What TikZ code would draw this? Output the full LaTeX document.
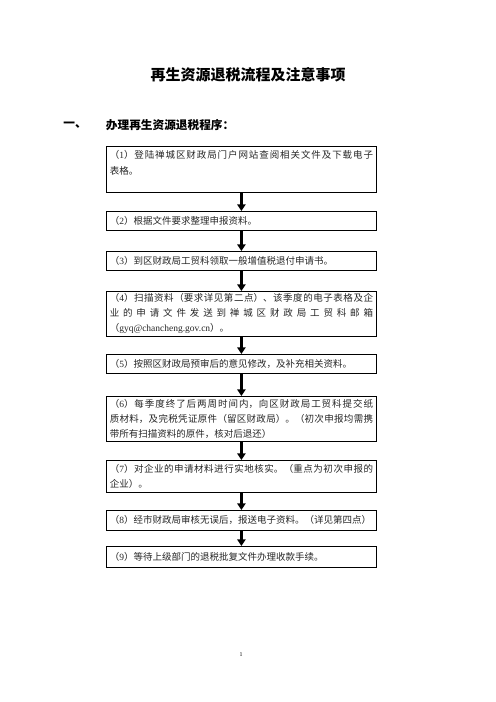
\documentclass[tikz,border=0pt]{standalone}
\usepackage{fontspec}
\setmainfont{Noto Sans CJK SC}
\newfontfamily\latinfont{Liberation Serif}
\usetikzlibrary{arrows.meta}
\XeTeXlinebreaklocale "zh"
\XeTeXlinebreakskip=0pt plus 2pt
\newcommand{\lat}[1]{{\latinfont #1}}

\begin{document}
\begin{tikzpicture}[x=1.2pt, y=-1.2pt,
  stepbox/.style={draw, line width=1pt, anchor=north west, text width=316pt,
    inner xsep=4pt, inner ysep=2pt, align=justify,
    font=\fontsize{11.4pt}{18pt}\selectfont, text=black!85},
  flowarrow/.style={line width=2.8pt, -{Triangle[length=8pt, width=10pt]}}]
\useasboundingbox (0,0) rectangle (496,702);
% Title and heading
\node[font=\fontsize{18pt}{20pt}\selectfont\bfseries] (title) at (248,75) {再生资源退税流程及注意事项};
\node[font=\fontsize{14pt}{16pt}\selectfont\bfseries] (headnum) at (75,125) {一、};
\node[font=\fontsize{14pt}{16pt}\selectfont\bfseries, anchor=west] (heading) at (103,125) {办理再生资源退税程序：};
% Steps
\node[stepbox, minimum height=55pt] (b1) at (106,146) {\vspace{2pt}（\lat{1}）登陆禅城区财政局门户网站查阅相关文件及下载电子\linebreak 表格。\par\vspace{16pt}};
\node[stepbox, minimum height=23pt] (b2) at (106,211) {（\lat{2}）根据文件要求整理申报资料。};
\node[stepbox, minimum height=23pt] (b3) at (106,251) {（\lat{3}）到区财政局工贸科领取一般增值税退付申请书。};
\node[stepbox, minimum height=54pt] (b4) at (106,291) {（\lat{4}）扫描资料（要求详见第二点）、该季度的电子表格及企\linebreak 业的申请文件发送到禅城区财政局工贸科邮箱\linebreak （\lat{gyq@chancheng.gov.cn}）。};
\node[stepbox, minimum height=23pt] (b5) at (106,354) {（\lat{5}）按照区财政局预审后的意见修改，及补充相关资料。};
\node[stepbox, minimum height=54pt] (b6) at (106,396) {（\lat{6}）每季度终了后两周时间内，向区财政局工贸科提交纸\linebreak 质材料，及完税凭证原件（留区财政局）。（初次申报均需携\linebreak 带所有扫描资料的原件，核对后退还）};
\node[stepbox, minimum height=38pt] (b7) at (106,460) {（\lat{7}）对企业的申请材料进行实地核实。（重点为初次申报的\linebreak 企业）。};
\node[stepbox, minimum height=24pt] (b8) at (106,510) {（\lat{8}）经市财政局审核无误后，报送电子资料。（详见第四点）};
\node[stepbox, minimum height=25pt] (b9) at (106,546) {（\lat{9}）等待上级部门的退税批复文件办理收款手续。};
% Arrows
\draw[flowarrow] (b1) -- (b2);
\draw[flowarrow] (b2) -- (b3);
\draw[flowarrow] (b3) -- (b4);
\draw[flowarrow] (b4) -- (b5);
\draw[flowarrow] (b5) -- (b6);
\draw[flowarrow] (b6) -- (b7);
\draw[flowarrow] (b7) -- (b8);
\draw[flowarrow] (b8) -- (b9);
% Page number
\node[font=\latinfont\fontsize{7pt}{8pt}\selectfont] (pagenum) at (241,655) {1};
\end{tikzpicture}
\end{document}
